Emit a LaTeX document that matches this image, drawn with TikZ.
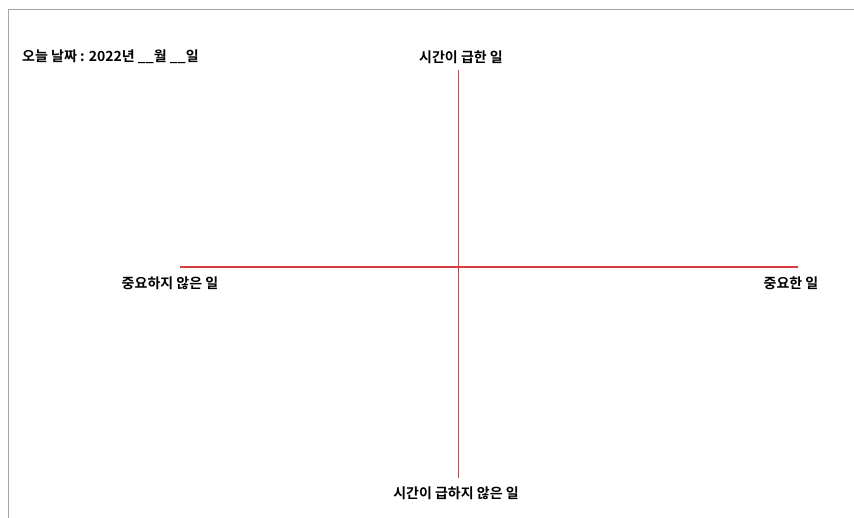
\documentclass[tikz,border=0pt]{standalone}
\usepackage{fontspec}
\setmainfont{Noto Sans CJK KR Bold}
\newfontfamily\kr{Noto Sans CJK KR Bold}
\definecolor{axisred}{RGB}{216,60,60}
\definecolor{framegray}{RGB}{165,165,165}
\begin{document}
\begin{tikzpicture}[x=1pt,y=-1pt,
  lbl/.style={font=\kr\fontsize{14}{16}\selectfont, inner sep=0pt, text=black},
  axis/.style={draw=axisred, line width=1.4pt},
  frame/.style={draw=framegray, line width=1.6pt}]
\useasboundingbox[fill=white] (0,0) rectangle (854,518);
\draw[frame] (8.5,518) -- (8.5,9.5) -- (854,9.5);
\node[lbl, anchor=west] (date) at (22,57) {오늘 날짜 : 2022년 \_\_월 \_\_일};
\node[lbl] (top) at (461,57) {시간이 급한 일};
\node[lbl] (bottom) at (456,493) {시간이 급하지 않은 일};
\node[lbl] (left) at (170,283) {중요하지 않은 일};
\node[lbl] (right) at (791,283) {중요한 일};
\coordinate (vt) at (458.5,70);
\coordinate (vb) at (458.5,478);
\coordinate (hl) at (180,267);
\coordinate (hr) at (798,267);
\draw[axis] (vt) -- (vb);
\draw[axis] (hl) -- (hr);
\end{tikzpicture}
\end{document}
